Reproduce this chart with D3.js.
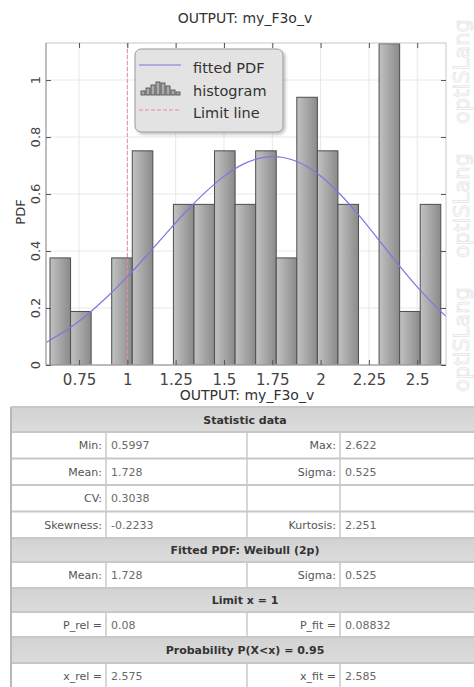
<!DOCTYPE html>
<html>
<head>
<meta charset="utf-8">
<script src="https://cdn.jsdelivr.net/npm/d3@7"></script>
<style>
  body { margin: 0; background: #fff; overflow: hidden; font-family: "DejaVu Sans", sans-serif; }
</style>
</head>
<body>
<script>
// ---- data ----
const chartTitle = "OUTPUT: my_F3o_v";
const xLabel = "OUTPUT: my_F3o_v";
const yLabel = "PDF";
const sampleMin = 0.5997,
  sampleMax = 2.622,
  sampleSize = 50;
// 19 bins between min and max
const binCounts = [2, 1, 0, 2, 4, 0, 3, 3, 4, 3, 4, 2, 5, 4, 3, 0, 6, 1, 3];
// fitted Weibull curve
const pdfX = [0.58, 0.6, 0.7, 0.8, 0.9, 1.0, 1.1, 1.2, 1.3, 1.4, 1.5, 1.6, 1.7, 1.8, 1.9, 2.0, 2.1, 2.2, 2.3, 2.4, 2.5, 2.6, 2.649];
const pdfY = [0.079, 0.087, 0.129, 0.181, 0.242, 0.31, 0.384, 0.461, 0.536, 0.604, 0.662, 0.705, 0.728, 0.729, 0.707, 0.663, 0.6, 0.524, 0.44, 0.355, 0.274, 0.202, 0.171];
const limitX = 1;
const xTicks = [0.75, 1, 1.25, 1.5, 1.75, 2, 2.25, 2.5];
const yTicks = [0, 0.2, 0.4, 0.6, 0.8, 1];
const legendLabels = ["fitted PDF", "histogram", "Limit line"];
const watermarkWords = ["optiSLang", "optiSLang", "optiSLang"];

const tableRows = [
  ["Statistic data"],
  ["Min:", "0.5997", "Max:", "2.622"],
  ["Mean:", "1.728", "Sigma:", "0.525"],
  ["CV:", "0.3038", "", ""],
  ["Skewness:", "-0.2233", "Kurtosis:", "2.251"],
  ["Fitted PDF: Weibull (2p)"],
  ["Mean:", "1.728", "Sigma:", "0.525"],
  ["Limit x = 1"],
  ["P_rel =", "0.08", "P_fit =", "0.08832"],
  ["Probability P(X<x) = 0.95"],
  ["x_rel =", "2.575", "x_fit =", "2.585"],
];

// ---- layout ----
const width = 474,
  height = 687;
const plot = { left: 46, top: 43, right: 446, bottom: 365 };

const svg = d3
  .select("body")
  .append("svg")
  .attr("width", width)
  .attr("height", height);

const defs = svg.append("defs");
const grad = defs.append("linearGradient").attr("id", "barGrad").attr("x1", 0).attr("x2", 1).attr("y1", 0).attr("y2", 0);
grad.append("stop").attr("offset", "0%").attr("stop-color", "#c2c2c2");
grad.append("stop").attr("offset", "100%").attr("stop-color", "#8a8a8a");
const hgrad = defs.append("linearGradient").attr("id", "headGrad").attr("x1", 0).attr("x2", 0).attr("y1", 0).attr("y2", 1);
hgrad.append("stop").attr("offset", "0%").attr("stop-color", "#d2d2d2");
hgrad.append("stop").attr("offset", "100%").attr("stop-color", "#dcdcdc");
defs.append("clipPath").attr("id", "plotClip")
  .append("rect")
  .attr("x", plot.left).attr("y", plot.top)
  .attr("width", plot.right - plot.left).attr("height", plot.bottom - plot.top);
const shadow = defs.append("filter").attr("id", "shadow").attr("x", "-10%").attr("y", "-10%").attr("width", "130%").attr("height", "130%");
shadow.append("feDropShadow").attr("dx", 2).attr("dy", 2).attr("stdDeviation", 1.5).attr("flood-color", "#000").attr("flood-opacity", 0.25);

// watermark on the right
svg.selectAll("text.wm")
  .data(watermarkWords)
  .enter()
  .append("text")
  .attr("class", "wm")
  .attr("transform", (d, i) => `translate(469,${392 - i * 134}) rotate(-90)`)
  .attr("font-size", 21)
  .attr("fill", "#fcfcfc")
  .attr("stroke", "#e6e6e6")
  .attr("stroke-width", 0.8)
  .text((d) => d);

const x = d3.scaleLinear().domain([0.579, 2.649]).range([plot.left, plot.right]);
const y = d3.scaleLinear().domain([0, 1.13]).range([plot.bottom, plot.top]);

// title
svg.append("text")
  .attr("x", 245).attr("y", 23)
  .attr("text-anchor", "middle")
  .attr("font-size", 14)
  .attr("fill", "#333")
  .text(chartTitle);

// grid
const grid = svg.append("g").attr("stroke", "#e8e8e8").attr("stroke-width", 1);
grid.selectAll(".vg").data(xTicks).enter().append("line")
  .attr("x1", (d) => x(d)).attr("x2", (d) => x(d))
  .attr("y1", plot.top).attr("y2", plot.bottom);
grid.selectAll(".hg").data(yTicks).enter().append("line")
  .attr("x1", plot.left).attr("x2", plot.right)
  .attr("y1", (d) => y(d)).attr("y2", (d) => y(d));

// histogram
const binWidth = (sampleMax - sampleMin) / binCounts.length;
const bins = binCounts.map((c, i) => ({
  x0: sampleMin + i * binWidth,
  x1: sampleMin + (i + 1) * binWidth,
  density: c / (sampleSize * binWidth),
}));

const main = svg.append("g").attr("clip-path", "url(#plotClip)");

main.selectAll("rect.bar")
  .data(bins.filter((d) => d.density > 0))
  .enter()
  .append("rect")
  .attr("class", "bar")
  .attr("x", (d) => x(d.x0))
  .attr("y", (d) => y(d.density))
  .attr("width", (d) => x(d.x1) - x(d.x0))
  .attr("height", (d) => y(0) - y(d.density))
  .attr("fill", "url(#barGrad)")
  .attr("stroke", "#4d4d4d")
  .attr("stroke-width", 1);

// limit line
main.append("line")
  .attr("x1", x(limitX)).attr("x2", x(limitX))
  .attr("y1", plot.top).attr("y2", plot.bottom)
  .attr("stroke", "#f08a9a")
  .attr("stroke-width", 1)
  .attr("stroke-dasharray", "4,2");

// fitted pdf
const pdfPoints = pdfX.map((v, i) => [v, pdfY[i]]);
main.append("path")
  .datum(pdfPoints)
  .attr("fill", "none")
  .attr("stroke", "#7a78e0")
  .attr("stroke-width", 1.2)
  .attr("d", d3.line().x((d) => x(d[0])).y((d) => y(d[1])).curve(d3.curveCatmullRom));

// frame
svg.append("rect")
  .attr("x", plot.left).attr("y", plot.top)
  .attr("width", plot.right - plot.left).attr("height", plot.bottom - plot.top)
  .attr("fill", "none").attr("stroke", "#c8c8c8");
svg.append("path")
  .attr("d", `M${plot.left},${plot.top}V${plot.bottom}H${plot.right}`)
  .attr("fill", "none").attr("stroke", "#999");

// axes, ticks inward
function styleAxis(g) {
  g.select(".domain").remove();
  g.selectAll(".tick line").attr("stroke", "#555");
}
svg.append("g")
  .attr("transform", `translate(0,${plot.bottom})`)
  .call(d3.axisBottom(x).tickValues(xTicks).tickSize(-5).tickPadding(9).tickFormat((d) => String(d)))
  .call(styleAxis)
  .call((g) => g.selectAll("text").attr("font-size", 15).attr("fill", "#444").attr("font-family", "DejaVu Sans"));
svg.append("g")
  .attr("transform", `translate(0,${plot.top})`)
  .call(d3.axisTop(x).tickValues(xTicks).tickSize(-5).tickFormat(""))
  .call(styleAxis);
svg.append("g")
  .attr("transform", `translate(${plot.left},0)`)
  .call(d3.axisLeft(y).tickValues(yTicks).tickSize(-5).tickFormat(""))
  .call(styleAxis);
svg.append("g")
  .attr("transform", `translate(${plot.right},0)`)
  .call(d3.axisRight(y).tickValues(yTicks).tickSize(-5).tickFormat(""))
  .call(styleAxis);

// rotated y tick labels
svg.selectAll("text.ylab")
  .data(yTicks)
  .enter()
  .append("text")
  .attr("class", "ylab")
  .attr("transform", (d) => `translate(40,${y(d)}) rotate(-90)`)
  .attr("text-anchor", "middle")
  .attr("font-size", 13)
  .attr("fill", "#444")
  .text((d) => String(d));

svg.append("text")
  .attr("transform", `translate(25,212) rotate(-90)`)
  .attr("text-anchor", "middle")
  .attr("font-size", 13)
  .attr("fill", "#333")
  .text(yLabel);

svg.append("text")
  .attr("x", 247).attr("y", 400)
  .attr("text-anchor", "middle")
  .attr("font-size", 14)
  .attr("fill", "#333")
  .text(xLabel);

// legend
const legend = svg.append("g").attr("transform", "translate(135,49)");
legend.append("rect")
  .attr("width", 148).attr("height", 83).attr("rx", 6)
  .attr("fill", "#e3e3e3").attr("stroke", "#9a9a9a")
  .attr("filter", "url(#shadow)");
legend.selectAll("text")
  .data(legendLabels)
  .enter()
  .append("text")
  .attr("x", 58)
  .attr("y", (d, i) => 24 + i * 22.5)
  .attr("font-size", 14.5)
  .attr("fill", "#333")
  .text((d) => d);
legend.append("line")
  .attr("x1", 4).attr("x2", 46).attr("y1", 16).attr("y2", 16)
  .attr("stroke", "#7a78e0").attr("stroke-width", 1.2);
legend.append("line")
  .attr("x1", 4).attr("x2", 46).attr("y1", 61).attr("y2", 61)
  .attr("stroke", "#f08a9a").attr("stroke-width", 1).attr("stroke-dasharray", "4,2");
const iconHeights = [4, 7, 10, 13, 12, 9, 5, 3];
legend.selectAll("rect.icon")
  .data(iconHeights)
  .enter()
  .append("rect")
  .attr("class", "icon")
  .attr("x", (d, i) => 6 + i * 5)
  .attr("y", (d) => 46 - d)
  .attr("width", 4)
  .attr("height", (d) => d)
  .attr("fill", "#aaa")
  .attr("stroke", "#444")
  .attr("stroke-width", 0.8);

// statistics table
const colEdges = [11, 106, 247, 340, 479];
const rowHeights = [25, 26.5, 26.5, 26.5, 26.5, 24, 26, 24, 25, 26, 26];
const rowTops = rowHeights.reduce((acc, h, i) => {
  acc.push(i === 0 ? 407 : acc[i - 1] + rowHeights[i - 1]);
  return acc;
}, []);

const table = svg.append("g").attr("font-size", 11);
tableRows.forEach((row, i) => {
  const top = rowTops[i],
    h = rowHeights[i];
  const g = table.append("g");
  if (row.length === 1) {
    g.append("rect")
      .attr("x", colEdges[0]).attr("y", top)
      .attr("width", colEdges[4] - colEdges[0]).attr("height", h)
      .attr("fill", "url(#headGrad)");
    g.append("text")
      .attr("x", (colEdges[0] + colEdges[4]) / 2)
      .attr("y", top + h / 2 + 4)
      .attr("text-anchor", "middle")
      .attr("font-weight", "bold")
      .attr("fill", "#333")
      .text(row[0]);
  } else {
    g.append("rect")
      .attr("x", colEdges[0]).attr("y", top)
      .attr("width", colEdges[4] - colEdges[0]).attr("height", h)
      .attr("fill", "#fff");
    row.forEach((cell, j) => {
      const isLabel = j % 2 === 0;
      g.append("text")
        .attr("x", isLabel ? colEdges[j + 1] - 4 : colEdges[j] + 5)
        .attr("y", top + h / 2 + 4)
        .attr("text-anchor", isLabel ? "end" : "start")
        .attr("fill", isLabel ? "#555" : "#6a6a6a")
        .text(cell);
    });
    colEdges.slice(1, 4).forEach((cx) => {
      g.append("line")
        .attr("x1", cx).attr("x2", cx)
        .attr("y1", top).attr("y2", top + h)
        .attr("stroke", "#d6d6d6").attr("stroke-width", 2);
    });
  }
  g.append("line")
    .attr("x1", colEdges[0]).attr("x2", colEdges[4])
    .attr("y1", top).attr("y2", top)
    .attr("stroke", "#c8c8c8").attr("stroke-width", 2);
});
table.append("line")
  .attr("x1", colEdges[0]).attr("x2", colEdges[0])
  .attr("y1", rowTops[0]).attr("y2", height)
  .attr("stroke", "#b8b8b8").attr("stroke-width", 2);
</script>
</body>
</html>
